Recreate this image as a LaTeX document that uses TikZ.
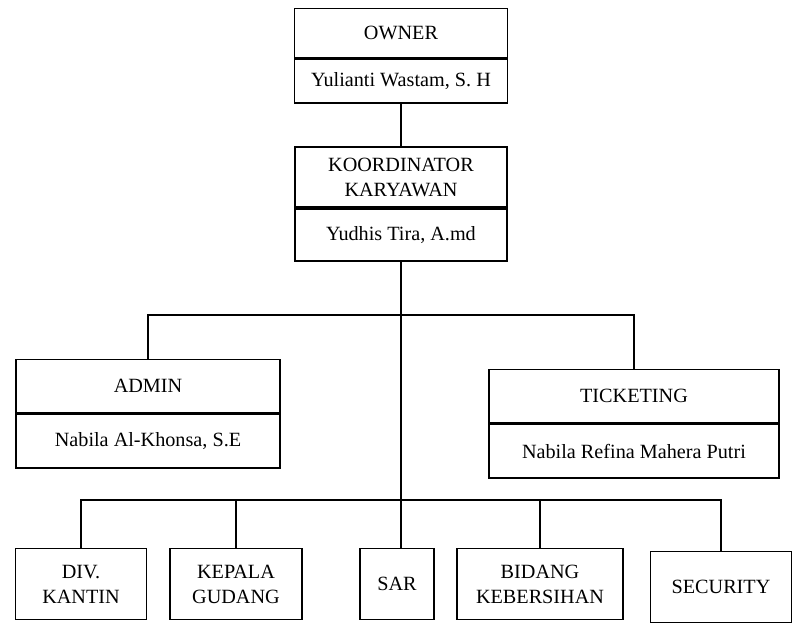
\documentclass[tikz,border=0pt]{standalone}
\usepackage{fontspec}
\setmainfont{Liberation Serif}
\usetikzlibrary{positioning}

\tikzset{
  box/.style={draw, line width=1.1pt, inner sep=2pt, align=center, font=\fontsize{11.5}{14.2}\selectfont},
  headbox/.style={box, minimum height=#1},
  unitbox/.style={box, minimum height=1.42cm},
  link/.style={line width=1.1pt}
}

\begin{document}
\begin{tikzpicture}[x=0.02cm, y=-0.02cm]
  \useasboundingbox (0,0) rectangle (796,629);

  % Owner
  \node[headbox=0.98cm, minimum width=4.26cm] (ownerhead) at (401,33) {OWNER};
  \node[headbox=0.88cm, minimum width=4.26cm, below=0pt of ownerhead] (ownername) {Yulianti Wastam, S. H};

  % Koordinator
  \node[headbox=1.2cm, minimum width=4.24cm] (koordhead) at (401,177) {KOORDINATOR\\KARYAWAN};
  \node[headbox=1.04cm, minimum width=4.24cm, below=0pt of koordhead] (koordname) {Yudhis Tira, A.md};

  % Admin and ticketing
  \node[headbox=1.06cm, minimum width=5.28cm] (adminhead) at (148,386) {ADMIN};
  \node[headbox=1.08cm, minimum width=5.28cm, below=0pt of adminhead] (adminname) {Nabila Al-Khonsa, S.E};
  \node[headbox=1.06cm, minimum width=5.8cm] (tickethead) at (634,396) {TICKETING};
  \node[headbox=1.08cm, minimum width=5.8cm, below=0pt of tickethead] (ticketname) {Nabila Refina Mahera Putri};

  % Units
  \node[unitbox, minimum width=2.62cm] (kantin) at (81,584) {DIV.\\KANTIN};
  \node[unitbox, minimum width=2.64cm] (gudang) at (236,584) {KEPALA\\GUDANG};
  \node[unitbox, minimum width=1.48cm] (sar) at (397,584) {SAR};
  \node[unitbox, minimum width=3.32cm] (bidang) at (540,584) {BIDANG\\KEBERSIHAN};
  \node[unitbox, minimum width=2.82cm] (security) at (721,587) {SECURITY};

  % Lines
  \coordinate (upperbus) at (401,315);
  \coordinate (lowerbus) at (401,500);
  \draw[link] (ownername.south) -- (koordhead.north);
  \draw[link] (koordname.south) -- (koordname.south |- sar.north);
  \draw[link] (adminhead.north) |- (upperbus) -| (tickethead.north);
  \draw[link] (kantin.north) |- (lowerbus) -| (security.north);
  \draw[link] (gudang.north) -- (gudang.north |- lowerbus);
  \draw[link] (bidang.north) -- (bidang.north |- lowerbus);
\end{tikzpicture}
\end{document}
